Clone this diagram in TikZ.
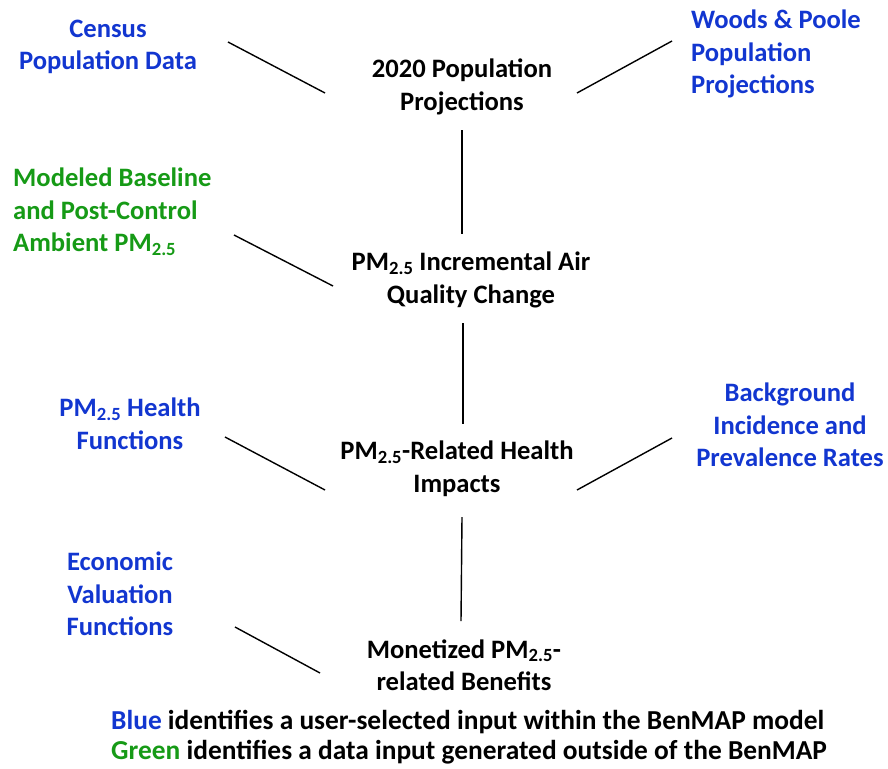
\documentclass[tikz,border=0pt]{standalone}
\usepackage{fontspec}
\setmainfont{Carlito}
\definecolor{inblue}{RGB}{18,54,208}
\definecolor{ingreen}{RGB}{22,154,22}
\begin{document}
\begin{tikzpicture}[x=1pt,y=-1pt,
  lbl/.style={inner sep=0pt, align=center, font=\bfseries\fontsize{26.6}{32.5}\selectfont},
  bluelbl/.style={lbl, text=inblue},
  greenlbl/.style={lbl, text=ingreen},
  conn/.style={line width=1.4pt, black}]
\useasboundingbox (0,0) rectangle (888,768);
% nodes
\node[bluelbl] (census) at (108,47) {Census\\Population Data};
\node[lbl] (pop) at (462,87) {2020 Population\\Projections};
\node[bluelbl, align=left, anchor=west] (woods) at (691,54) {Woods \& Poole\\Population\\Projections};
\node[greenlbl, align=left, anchor=west] (model) at (13,212) {Modeled Baseline\\and Post-Control\\Ambient PM\textsubscript{2.5}};
\node[lbl] (aq) at (471,280) {PM\textsubscript{2.5} Incremental Air\\Quality Change};
\node[bluelbl] (hf) at (130,424) {PM\textsubscript{2.5} Health\\Functions};
\node[bluelbl] (bg) at (790,425) {Background\\Incidence and\\Prevalence Rates};
\node[lbl] (hi) at (457,469) {PM\textsubscript{2.5}-Related Health\\Impacts};
\node[bluelbl] (ev) at (120,594) {Economic\\Valuation\\Functions};
\node[lbl] (mb) at (464,665) {Monetized PM\textsubscript{2.5}-\\related Benefits};
\node[lbl, align=left, anchor=west, font=\bfseries\fontsize{27.4}{30}\selectfont] (legend) at (111,737)
  {\textcolor{inblue}{Blue} identifies a user-selected input within the BenMAP model\\
   \textcolor{ingreen}{Green} identifies a data input generated outside of the BenMAP};
% connector end points
\coordinate (c1a) at (228,42); \coordinate (c1b) at (325,93);
\coordinate (c2a) at (577,93); \coordinate (c2b) at (672,41);
\coordinate (c3a) at (462,130); \coordinate (c3b) at (462,234);
\coordinate (c4a) at (234,235); \coordinate (c4b) at (333,286);
\coordinate (c5a) at (463,323); \coordinate (c5b) at (463,424);
\coordinate (c6a) at (225,437); \coordinate (c6b) at (325,490);
\coordinate (c7a) at (577,490); \coordinate (c7b) at (672,438);
\coordinate (c8a) at (462,517); \coordinate (c8b) at (461,621);
\coordinate (c9a) at (235,627); \coordinate (c9b) at (320,673);
\draw[conn] (c1a) -- (c1b);
\draw[conn] (c2a) -- (c2b);
\draw[conn] (c3a) -- (c3b);
\draw[conn] (c4a) -- (c4b);
\draw[conn] (c5a) -- (c5b);
\draw[conn] (c6a) -- (c6b);
\draw[conn] (c7a) -- (c7b);
\draw[conn] (c8a) -- (c8b);
\draw[conn] (c9a) -- (c9b);
\end{tikzpicture}
\end{document}
